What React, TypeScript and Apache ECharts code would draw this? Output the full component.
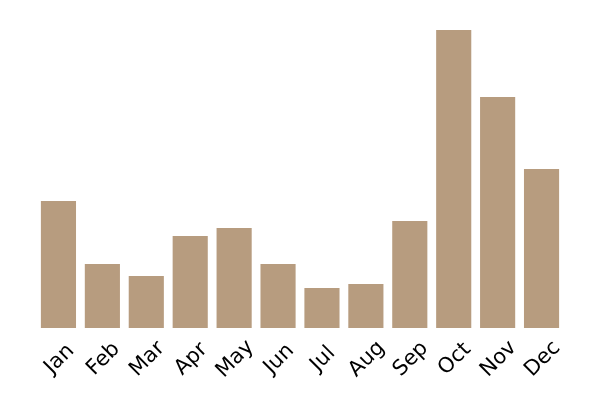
import { useEffect, useRef } from "react";
import * as echarts from "echarts";

const months = ["Jan", "Feb", "Mar", "Apr", "May", "Jun", "Jul", "Aug", "Sep", "Oct", "Nov", "Dec"];
const values = [127, 64, 52, 92, 100, 64, 40, 44, 107, 298, 231, 159];

const App = () => {
  const chartRef = useRef<HTMLDivElement | null>(null);

  useEffect(() => {
    if (!chartRef.current) {
      return;
    }
    const instance = echarts.init(chartRef.current, undefined, { renderer: "svg" });
    instance.setOption({
      animation: false,
      grid: { left: 36.5, right: 36.5, top: 30, bottom: 72 },
      xAxis: {
        type: "category",
        data: months,
        axisLine: { show: false },
        axisTick: { show: false },
        axisLabel: {
          rotate: 45,
          interval: 0,
          margin: 30,
          align: "center",
          verticalAlign: "middle",
          fontSize: 21,
          color: "#000",
          fontFamily: "DejaVu Sans, sans-serif",
        },
      },
      yAxis: {
        type: "value",
        min: 0,
        max: 298,
        show: false,
        splitLine: { show: false },
      },
      series: [
        {
          type: "bar",
          data: values,
          barCategoryGap: "20%",
          itemStyle: { color: "#b79c7f" },
        },
      ],
    });
    return () => instance.dispose();
  }, []);

  return (
    <div
      ref={chartRef}
      style={{ position: "fixed", left: 0, top: 0, width: 600, height: 400 }}
    />
  );
};

export default App;
